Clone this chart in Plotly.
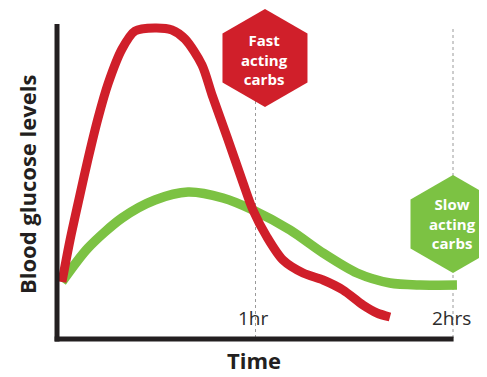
import plotly.graph_objects as go

# ---- data (time in hours, glucose in arbitrary units) ----
hours_fast = [0.02, 0.061, 0.111, 0.152, 0.203, 0.253, 0.324, 0.39, 0.49, 0.577, 0.643, 0.729, 0.78, 0.856, 0.937, 0.987, 1.058, 1.139, 1.241, 1.342, 1.443, 1.544, 1.615, 1.681]
glucose_fast = [58, 100, 145, 181, 222, 256, 291, 309, 312, 310, 301, 275, 245, 203, 157, 130, 103, 80, 67, 60, 50, 35, 27, 23]

hours_slow = [0.02, 0.152, 0.324, 0.491, 0.658, 0.835, 0.987, 1.175, 1.342, 1.514, 1.681, 1.833, 2.02]
glucose_slow = [58, 92, 122, 140, 148, 142, 130, 110, 87, 67, 57, 55, 55]

tick_hours = [1, 2]
tick_labels = ["1hr", "2hrs"]

label_fast = "Fast<br>acting<br>carbs"
label_slow = "Slow<br>acting<br>carbs"

RED = "#D01F2A"
GREEN = "#7CC243"
DARK = "#231F20"

# The page body adds an 8px margin, so the figure is laid out 8px up/left.
OFF = 8
W, H = 487 - OFF, 377 - OFF
PXH = 197.5          # pixels per hour
X0 = 58 - OFF        # pixel of t=0
BASE = 340 - OFF     # pixel of glucose 0

fig = go.Figure()
fig.add_trace(go.Scatter(x=hours_slow, y=glucose_slow, mode="lines",
                         line=dict(color=GREEN, width=9.5, shape="spline", smoothing=0.8),
                         hoverinfo="skip", showlegend=False))
fig.add_trace(go.Scatter(x=hours_fast, y=glucose_fast, mode="lines",
                         line=dict(color=RED, width=9, shape="spline", smoothing=0.8),
                         hoverinfo="skip", showlegend=False))

shapes = []
for t in tick_hours:
    shapes.append(dict(type="line", xref="x", yref="y", x0=t, x1=t, y0=2, y1=313,
                       line=dict(color="#9a9a9a", width=1, dash="dot"), layer="below"))

def hexagon(xc, yc, color):
    R, w = 49, 42.5
    path = f"M 0 {R} L {w} {R/2} L {w} {-R/2} L 0 {-R} L {-w} {-R/2} L {-w} {R/2} Z"
    return dict(type="path", xref="x", yref="y", xsizemode="pixel", ysizemode="pixel",
                xanchor=xc, yanchor=yc, path=path, fillcolor=color,
                line=dict(width=0), layer="below")

shapes.append(hexagon(1.048, 282, RED))
shapes.append(hexagon(2.0, 116, GREEN))

# axes
shapes.append(dict(type="line", xref="x", yref="y", x0=-0.005, x1=-0.005, y0=-1.5, y1=316,
                   line=dict(color=DARK, width=5), layer="above"))
shapes.append(dict(type="line", xref="x", yref="y", x0=-0.017, x1=2.003, y0=1, y1=1,
                   line=dict(color=DARK, width=5), layer="above"))

annotations = []
for t, lab in zip(tick_hours, tick_labels):
    annotations.append(dict(x=t, y=22, xref="x", yref="y", text=lab, showarrow=False,
                            yanchor="middle", xshift=-2,
                            font=dict(family="Open Sans", size=19, color="#2b2b2b")))

annotations.append(dict(x=1.048, y=281, xref="x", yref="y", text=f"<b>{label_fast}</b>",
                        showarrow=False, yanchor="middle",
                        font=dict(family="Open Sans", size=15, color="white")))
annotations.append(dict(x=1.995, y=117, xref="x", yref="y", text=f"<b>{label_slow}</b>",
                        showarrow=False, yanchor="middle",
                        font=dict(family="Open Sans", size=15, color="white")))

annotations.append(dict(x=(254 - OFF) / W, y=0, xref="paper", yref="paper",
                        text="<b>Time</b>", yanchor="bottom", showarrow=False,
                        font=dict(family="Open Sans", size=22, color=DARK)))
annotations.append(dict(x=(27 - OFF) / W, y=1 - (185 - OFF) / H, xref="paper", yref="paper",
                        text="<b>Blood glucose levels</b>", xanchor="center", yanchor="middle",
                        textangle=-90, showarrow=False,
                        font=dict(family="Open Sans", size=22, color=DARK)))

fig.update_layout(
    width=W, height=H, margin=dict(l=0, r=0, t=0, b=0),
    paper_bgcolor="white", plot_bgcolor="white",
    xaxis=dict(range=[-X0 / PXH, (W - X0) / PXH], visible=False, fixedrange=True),
    yaxis=dict(range=[BASE - H, BASE], visible=False, fixedrange=True),
    shapes=shapes, annotations=annotations,
)

fig.write_html("out.html")
